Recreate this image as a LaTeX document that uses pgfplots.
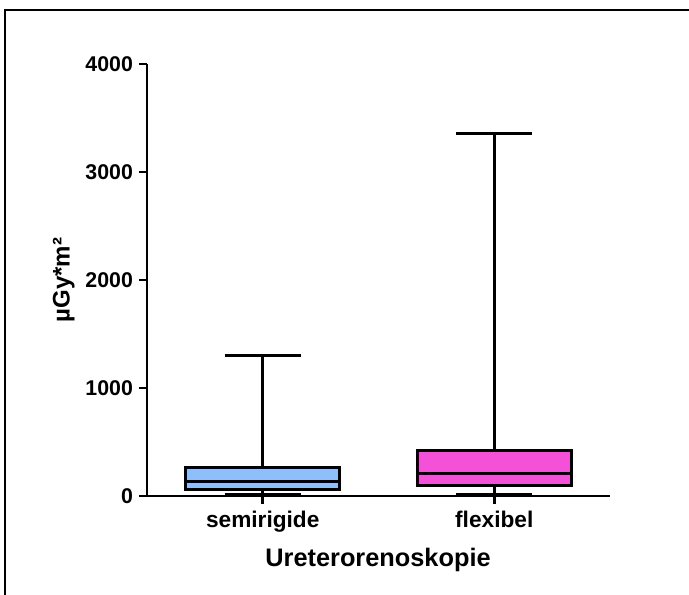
\documentclass[border=0pt]{standalone}
\usepackage{pgfplots}
\pgfplotsset{compat=1.18}
\usepackage{fontspec}
\setmainfont{Liberation Sans}

\definecolor{boxblue}{RGB}{143,191,250}
\definecolor{boxpink}{RGB}{245,80,216}

\begin{document}
\begin{tikzpicture}
% page area and outer frame (1 unit = 0.75pt)
\begin{scope}[x=0.75pt,y=0.75pt]
\useasboundingbox (0,0) rectangle (689,-595);
\draw[line width=1.5pt] (5,-620) -- (5,-10.5) -- (720,-10.5);
\end{scope}

\begin{axis}[
  at={(110.25pt,-372pt)}, anchor=south west,
  scale only axis,
  width=347.25pt, height=324pt,
  xmin=0.5, xmax=2.5,
  ymin=0, ymax=4000,
  axis x line=bottom, axis y line=left,
  axis line style={line width=2pt, -},
  xtick={1,2},
  xticklabels={semirigide, flexibel},
  ytick={0,1000,2000,3000,4000},
  tick style={line width=2pt, black},
  major tick length=6pt,
  xtick align=outside, ytick align=outside,
  /pgf/number format/assume math mode=true,
  /pgf/number format/set thousands separator={},
  yticklabel style={font=\bfseries\fontsize{16}{18}\selectfont, xshift=-1pt},
  xticklabel style={font=\bfseries\fontsize{17}{19}\selectfont, yshift=-2pt},
  every axis y label/.style={at={(axis description cs:-0.18,0.5)}, rotate=90, anchor=center,
    font=\bfseries\fontsize{18}{20}\selectfont},
  every axis x label/.style={at={(axis description cs:0.499,-0.148)}, anchor=center,
    font=\bfseries\fontsize{19}{21}\selectfont},
  ylabel={µGy*m²},
  xlabel={Ureterorenoskopie},
  clip=false,
  wh/.style={draw=black, solid, no marks, line width=2.2pt},
]
% semirigide: whiskers 12 / 1300, quartiles 62 / 266, median 132
\addplot[wh] coordinates {(1,266) (1,1300)};
\addplot[wh] coordinates {(0.835,1300) (1.165,1300)};
\addplot[wh] coordinates {(1,62) (1,12)};
\addplot[wh] coordinates {(0.835,12) (1.165,12)};
\addplot[wh, fill=boxblue] coordinates {(0.6665,62) (1.3335,62) (1.3335,266) (0.6665,266)} -- cycle;
\addplot[wh] coordinates {(0.6665,132) (1.3335,132)};
% flexibel: whiskers 12 / 3355, quartiles 95 / 419, median 210
\addplot[wh] coordinates {(2,419) (2,3355)};
\addplot[wh] coordinates {(1.835,3355) (2.165,3355)};
\addplot[wh] coordinates {(2,95) (2,12)};
\addplot[wh] coordinates {(1.835,12) (2.165,12)};
\addplot[wh, fill=boxpink] coordinates {(1.6665,95) (2.3335,95) (2.3335,419) (1.6665,419)} -- cycle;
\addplot[wh] coordinates {(1.6665,210) (2.3335,210)};
\end{axis}
\end{tikzpicture}
\end{document}
